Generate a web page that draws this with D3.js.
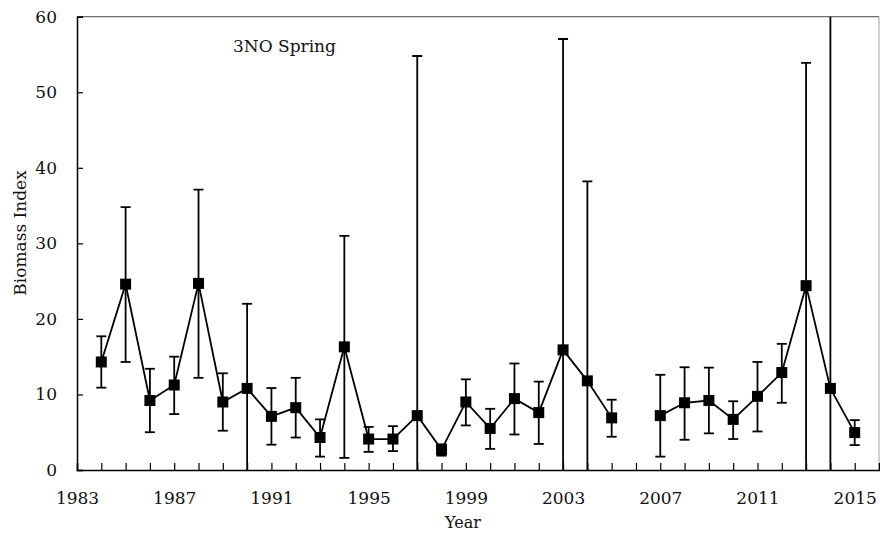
<!DOCTYPE html>
<html><head><meta charset="utf-8">
<script src="https://cdn.jsdelivr.net/npm/d3@7"></script>
<style>body{margin:0;background:#fff}svg{display:block}text{font-family:"DejaVu Serif",serif;fill:#111}</style>
</head><body><svg id="c" width="880" height="533"></svg>
<script>
const years = [1984,1985,1986,1987,1988,1989,1990,1991,1992,1993,1994,1995,1996,1997,1998,1999,2000,2001,2002,2003,2004,2005,2006,2007,2008,2009,2010,2011,2012,2013,2014,2015];
const mean  = [14.3,24.6,9.2,11.25,24.7,9.0,10.8,7.1,8.25,4.3,16.3,4.1,4.1,7.2,2.7,9.0,5.5,9.45,7.6,15.9,11.8,6.9,null,7.2,8.9,9.2,6.7,9.75,12.9,24.4,10.8,4.95];
const lower = [10.9,14.3,5.0,7.4,12.2,5.2,0,3.35,4.3,1.77,1.6,2.4,2.5,0,1.9,5.9,2.8,4.7,3.45,0,0,4.4,null,1.77,4.0,4.85,4.1,5.1,8.9,0,0,3.3];
const upper = [17.7,34.8,13.4,15.0,37.1,12.8,22.0,10.85,12.2,6.7,31.0,5.7,5.8,54.8,3.4,12.0,8.1,14.1,11.7,57.05,38.2,9.3,null,12.6,13.6,13.55,9.1,14.3,16.7,53.9,75,6.6];
const xTicks = [1983,1987,1991,1995,1999,2003,2007,2011,2015];
const yTicks = [0,10,20,30,40,50,60];
const title = "3NO Spring", xTitle = "Year", yTitle = "Biomass Index";

const svg = d3.select("#c");
const L=77, R=879, T=16.7, B=470;
const x = d3.scaleLinear().domain([1983,2016]).range([L,R]);
const y = d3.scaleLinear().domain([0,60]).range([B,T]);
const data = years.map((yr,i)=>({yr,m:mean[i],lo:lower[i],hi:upper[i]}));

svg.append("defs").append("clipPath").attr("id","clip").append("rect")
  .attr("x",L).attr("y",T).attr("width",R-L).attr("height",B-T);

svg.append("line").attr("x1",L).attr("x2",R).attr("y1",T).attr("y2",T).attr("stroke","#6e6e6e").attr("stroke-width",1.3);
svg.append("line").attr("x1",R).attr("x2",R).attr("y1",T).attr("y2",B).attr("stroke","#a0a0a0").attr("stroke-width",1);

const g = svg.append("g").attr("clip-path","url(#clip)");
const valid = data.filter(d=>d.m!=null);
g.selectAll("line.eb").data(valid).join("line").attr("class","eb")
  .attr("x1",d=>x(d.yr)).attr("x2",d=>x(d.yr)).attr("y1",d=>y(d.lo)).attr("y2",d=>y(d.hi))
  .attr("stroke","#000").attr("stroke-width",1.8);
g.selectAll("line.cu").data(valid).join("line").attr("class","cu")
  .attr("x1",d=>x(d.yr)-5).attr("x2",d=>x(d.yr)+5).attr("y1",d=>y(d.hi)).attr("y2",d=>y(d.hi))
  .attr("stroke","#000").attr("stroke-width",1.8);
g.selectAll("line.cl").data(valid.filter(d=>d.lo>0)).join("line").attr("class","cl")
  .attr("x1",d=>x(d.yr)-5).attr("x2",d=>x(d.yr)+5).attr("y1",d=>y(d.lo)).attr("y2",d=>y(d.lo))
  .attr("stroke","#000").attr("stroke-width",1.8);
const line = d3.line().defined(d=>d.m!=null).x(d=>x(d.yr)).y(d=>y(d.m));
g.append("path").datum(data).attr("d",line).attr("fill","none").attr("stroke","#000").attr("stroke-width",1.8);
g.selectAll("rect.mk").data(valid).join("rect").attr("class","mk")
  .attr("x",d=>x(d.yr)-5.5).attr("y",d=>y(d.m)-5.5).attr("width",11).attr("height",11).attr("fill","#000");

const xa = svg.append("g").attr("transform",`translate(0,${B})`)
  .call(d3.axisBottom(x).tickValues(d3.range(1983,2016)).tickSize(-7).tickFormat(d=>xTicks.includes(d)?d:""));
xa.select(".domain").attr("stroke","#000").attr("stroke-width",1.5);
xa.selectAll(".tick line").attr("stroke","#000").attr("stroke-width",1.2);
xa.selectAll(".tick text").attr("dy","0").attr("y",34).style("font-size","17px").attr("fill","#111");

const ya = svg.append("g").attr("transform",`translate(${L},0)`)
  .call(d3.axisLeft(y).tickValues(yTicks).tickSize(-6).tickFormat(d3.format("d")));
ya.select(".domain").attr("stroke","#000").attr("stroke-width",1.5);
ya.selectAll(".tick line").attr("stroke","#000").attr("stroke-width",1.2);
ya.selectAll(".tick text").attr("x",-20).style("font-size","17px").attr("fill","#111");

svg.append("text").attr("x",233).attr("y",52).style("font-size","17px").text(title);
svg.append("text").attr("x",463).attr("y",528).attr("text-anchor","middle").style("font-size","16px").text(xTitle);
svg.append("text").attr("transform","translate(26,233) rotate(-90)").attr("text-anchor","middle").style("font-size","17px").text(yTitle);
</script></body></html>
